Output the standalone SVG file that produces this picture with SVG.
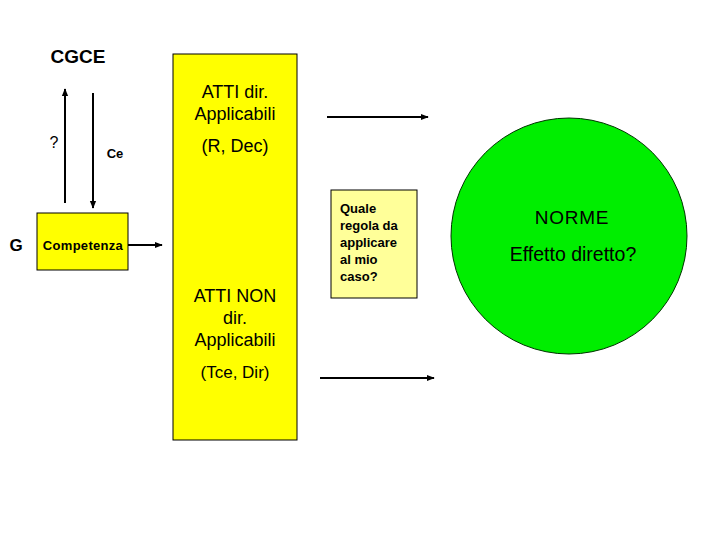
<svg xmlns="http://www.w3.org/2000/svg" width="720" height="540" viewBox="0 0 720 540">
<defs>
<marker id="ah" viewBox="0 0 10 10" refX="9" refY="5" markerWidth="8" markerHeight="8" markerUnits="userSpaceOnUse" orient="auto"><path d="M0,1 L10,5 L0,9 z" fill="#000"/></marker>
</defs>
<style>
text{font-family:"Liberation Sans",Arial,sans-serif;fill:#000}
.c{text-anchor:middle}
.a{font-size:18px}
.q{font-size:13px;font-weight:bold}
.ln{stroke:#000;stroke-width:2;fill:none;marker-end:url(#ah)}
</style>
<rect width="720" height="540" fill="#fff"/>
<g id="cgce"><text x="78" y="63" class="c" font-size="19" font-weight="bold">CGCE</text></g>
<g id="labels">
<text x="54" y="148" class="c" font-size="16">?</text>
<text x="115" y="158" class="c" font-size="13" font-weight="bold">Ce</text>
<text x="16" y="251" class="c" font-size="17" font-weight="bold">G</text>
</g>
<g id="atti">
<rect x="173" y="54" width="124" height="386" fill="#ffff00" stroke="#000" stroke-width="1"/>
<text x="235" y="98" class="c a">ATTI dir.</text>
<text x="235" y="120" class="c a">Applicabili</text>
<text x="235" y="152" class="c a">(R, Dec)</text>
<text x="235" y="302" class="c a">ATTI NON</text>
<text x="235" y="324" class="c a">dir.</text>
<text x="235" y="346" class="c a">Applicabili</text>
<text x="235" y="378" class="c" font-size="17">(Tce, Dir)</text>
</g>
<g id="competenza">
<rect x="37" y="213" width="91" height="57" fill="#ffff00" stroke="#000" stroke-width="1"/>
<text x="83" y="250" class="c" font-size="13" font-weight="bold" letter-spacing="0.3">Competenza</text>
</g>
<g id="quale">
<rect x="331" y="190" width="86" height="108" fill="#ffff99" stroke="#000" stroke-width="1"/>
<text x="340" y="213" class="q">Quale</text>
<text x="340" y="230" class="q">regola da</text>
<text x="340" y="247" class="q">applicare</text>
<text x="340" y="264" class="q">al mio</text>
<text x="340" y="281" class="q">caso?</text>
</g>
<g id="norme">
<circle cx="569" cy="236" r="118" fill="#00ee00" stroke="#003300" stroke-width="1"/>
<text x="572" y="224" class="c" font-size="19" letter-spacing="0.8" fill="#002200">NORME</text>
<text x="573" y="261" class="c" font-size="19.5" fill="#002200">Effetto diretto?</text>
</g>
<g id="connectors">
<line x1="65" y1="203" x2="65" y2="89" class="ln"/>
<line x1="93" y1="93" x2="93" y2="208" class="ln" stroke-width="1"/>
<line x1="128" y1="245" x2="162" y2="245" class="ln"/>
<line x1="327" y1="117" x2="428" y2="117" class="ln"/>
<line x1="320" y1="378" x2="434" y2="378" class="ln"/>
</g>
</svg>
